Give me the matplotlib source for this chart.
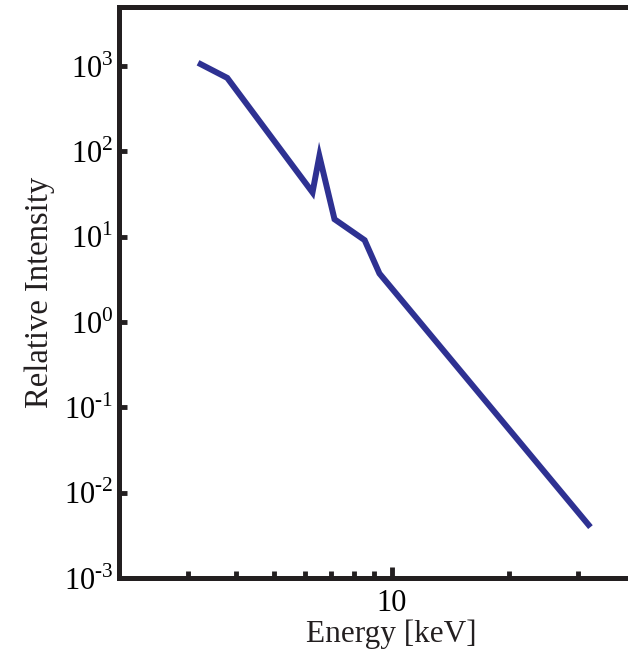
import matplotlib
matplotlib.use("Agg")
import matplotlib.pyplot as plt
from matplotlib.ticker import FixedLocator, FixedFormatter, NullFormatter

plt.rcParams['font.family'] = ['Liberation Serif', 'DejaVu Serif']
plt.rcParams['mathtext.fontset'] = 'custom'
plt.rcParams['mathtext.rm'] = 'Liberation Serif'

# spectrum
energy = [3.24, 3.79, 6.27, 6.53, 7.14, 8.53, 9.31, 32.0]
intensity = [1050, 725, 33, 88, 16, 9.1, 3.7, 0.0042]

ytick_exp = [-3, -2, -1, 0, 1, 2, 3]
xtick_major = [10]
xtick_minor = [3, 4, 5, 6, 7, 8, 9, 20, 30]

fig = plt.figure(figsize=(6.28, 6.51), dpi=100)
ax = fig.add_axes([0.1895, 0.1121, 0.868, 0.877])

ax.plot(energy, intensity, color='#2E3192', lw=4.3, solid_joinstyle='miter')

ax.set_xscale('log')
ax.set_yscale('log')
ax.set_xlim(2, 50)
ax.set_ylim(1e-3, 10 ** 3.69)

ax.xaxis.set_major_locator(FixedLocator(xtick_major))
ax.xaxis.set_major_formatter(FixedFormatter(['10']))
ax.xaxis.set_minor_locator(FixedLocator(xtick_minor))
ax.xaxis.set_minor_formatter(NullFormatter())
ax.yaxis.set_major_locator(FixedLocator([10.0 ** e for e in ytick_exp]))
ax.yaxis.set_major_formatter(FixedFormatter(
    [r'10$^{\text{%d}}$' % e for e in ytick_exp]))
ax.yaxis.set_minor_locator(FixedLocator([]))

for s in ax.spines.values():
    s.set_linewidth(3.6)
    s.set_color('#231F20')

ax.tick_params(axis='both', which='major', direction='in', length=6, width=3.5,
               color='#231F20', labelsize=22, pad=4)
ax.tick_params(axis='x', which='major', length=8, pad=8)
ax.tick_params(axis='x', which='minor', direction='in', length=5, width=3.5,
               color='#231F20')

ax.set_xlabel('Energy [keV]', fontsize=22.5, labelpad=1, color='#231F20')
ax.set_ylabel('Relative Intensity', fontsize=23.5, labelpad=6, color='#231F20')

fig.savefig('out.png', dpi=100)
